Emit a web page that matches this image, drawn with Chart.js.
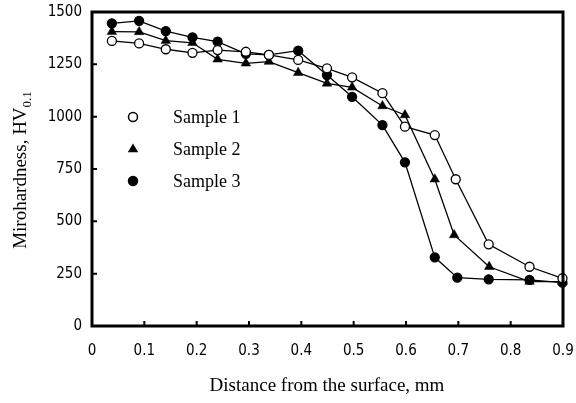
<!DOCTYPE html>
<html>
<head>
<meta charset="utf-8">
<script src="https://cdn.jsdelivr.net/npm/chart.js@4.4.1/dist/chart.umd.min.js"></script>
<style>
html,body{margin:0;padding:0;background:#fff;}
#wrap{width:576px;height:403px;position:relative;}
</style>
</head>
<body>
<div id="wrap"><canvas id="c" width="576" height="403"></canvas></div>
<script>
const distance = [0.038,0.090,0.141,0.192,0.240,0.294,0.338,0.394,0.449,0.497,0.555,0.598,0.655,0.695,0.758,0.836,0.899];
const sample1X = distance;
const sample1 = [1362,1350,1322,1305,1318,1310,1295,1271,1231,1188,1112,952,912,701,390,283,228];
const sample2X = [0.038,0.090,0.141,0.192,0.240,0.294,0.338,0.394,0.449,0.497,0.555,0.598,0.655,0.692,0.759,0.836,0.899];
const sample2 = [1406,1405,1363,1353,1274,1255,1263,1210,1159,1140,1051,1008,701,435,283,212,212];
const sample3X = [0.038,0.090,0.141,0.192,0.240,0.294,0.338,0.394,0.449,0.497,0.555,0.598,0.655,0.698,0.758,0.836,0.899];
const sample3 = [1446,1458,1409,1379,1358,1300,1295,1315,1199,1095,960,782,328,231,223,220,207];
const seriesNames = ["Sample 1","Sample 2","Sample 3"];
const xTicks = [0,0.1,0.2,0.3,0.4,0.5,0.6,0.7,0.8,0.9];
const yTicks = [0,250,500,750,1000,1250,1500];

const toPts = (xs, ys) => xs.map((x,i)=>({x:x,y:ys[i]}));

const SERIF = '"Liberation Serif","DejaVu Serif",serif';
const TICKF = '"Liberation Sans Narrow","DejaVu Sans Condensed","Liberation Sans",sans-serif';

const frame = {
  id:'frame',
  afterDraw(chart){
    const {ctx, chartArea:a, scales} = chart;
    ctx.save();
    ctx.strokeStyle = '#000';
    ctx.lineWidth = 3;
    ctx.strokeRect(a.left, a.top, a.right-a.left, a.bottom-a.top);
    ctx.lineWidth = 2;
    ctx.beginPath();
    xTicks.forEach(v=>{
      const px = scales.x.getPixelForValue(v);
      ctx.moveTo(px, a.bottom); ctx.lineTo(px, a.bottom-5);
    });
    yTicks.forEach(v=>{
      const py = scales.y.getPixelForValue(v);
      ctx.moveTo(a.left, py); ctx.lineTo(a.left+5, py);
    });
    ctx.stroke();

    ctx.fillStyle = '#000';
    ctx.font = '19px ' + SERIF;
    ctx.textAlign = 'center';
    ctx.textBaseline = 'alphabetic';
    ctx.fillText('Distance from the surface, mm', 327, 391);

    ctx.save();
    ctx.translate(26, 170);
    ctx.rotate(-Math.PI/2);
    const main = 'Mirohardness, HV';
    ctx.font = '19px ' + SERIF;
    const w1 = ctx.measureText(main).width;
    ctx.font = '13px ' + SERIF;
    const w2 = ctx.measureText('0.1').width;
    const start = -(w1+w2)/2;
    ctx.textAlign = 'left';
    ctx.font = '19px ' + SERIF;
    ctx.fillText(main, start, 0);
    ctx.font = '13px ' + SERIF;
    ctx.fillText('0.1', start + w1, 5);
    ctx.restore();

    const rows = [117, 149, 181];
    const styles = chart.data.datasets;
    rows.forEach((ry, i) => {
      const ds = styles[i];
      const mx = 133;
      ctx.save();
      ctx.fillStyle = ds.pointBackgroundColor;
      ctx.strokeStyle = '#000';
      ctx.lineWidth = 1.5;
      if (ds.pointStyle === 'triangle') {
        const r = 5.5;
        ctx.beginPath();
        ctx.moveTo(mx, ry - r);
        ctx.lineTo(mx + r*0.95, ry + r*0.6);
        ctx.lineTo(mx - r*0.95, ry + r*0.6);
        ctx.closePath();
        ctx.fill();
      } else {
        ctx.beginPath();
        ctx.arc(mx, ry, 4.5, 0, Math.PI*2);
        ctx.fill(); ctx.stroke();
      }
      ctx.restore();
      ctx.fillStyle = '#000';
      ctx.font = '18px ' + SERIF;
      ctx.textAlign = 'left';
      ctx.textBaseline = 'middle';
      ctx.fillText(seriesNames[i], 173, ry + 1);
    });
    ctx.restore();
  }
};

const mk = (label, data, style, fill) => ({
  label, data,
  borderColor:'#000', borderWidth:1.3,
  pointStyle: style,
  pointRadius: style === 'triangle' ? 5.5 : 4.5,
  pointBackgroundColor: fill,
  pointBorderColor:'#000',
  pointBorderWidth: style === 'triangle' ? 0.5 : 1.3,
  showLine:true, tension:0, clip:false
});

new Chart(document.getElementById('c'), {
  type:'scatter',
  data:{
    datasets:[
      mk(seriesNames[0], toPts(sample1X, sample1), 'circle', '#fff'),
      mk(seriesNames[1], toPts(sample2X, sample2), 'triangle', '#000'),
      mk(seriesNames[2], toPts(sample3X, sample3), 'circle', '#000')
    ]
  },
  options:{
    responsive:false, animation:false,
    layout:{padding:{left:0,right:13,top:12,bottom:0}},
    plugins:{legend:{display:false}, tooltip:{enabled:false}},
    scales:{
      x:{
        type:'linear', min:0, max:0.9,
        afterBuildTicks(s){ s.ticks = xTicks.map(v=>({value:v})); },
        afterFit(s){ s.height = 77; s.paddingLeft = 0; s.paddingRight = 0; },
        grid:{display:false, drawTicks:false},
        border:{display:false},
        ticks:{padding:16, color:'#000', font:{family:TICKF, size:15},
          callback:v=>String(v)}
      },
      y:{
        min:0, max:1500,
        afterBuildTicks(s){ s.ticks = yTicks.map(v=>({value:v})); },
        afterFit(s){ s.width = 92; s.paddingTop = 0; s.paddingBottom = 0; },
        grid:{display:false, drawTicks:false},
        border:{display:false},
        ticks:{padding:10, color:'#000', font:{family:TICKF, size:15},
          callback:v=>String(v)}
      }
    }
  },
  plugins:[frame]
});
</script>
</body>
</html>
